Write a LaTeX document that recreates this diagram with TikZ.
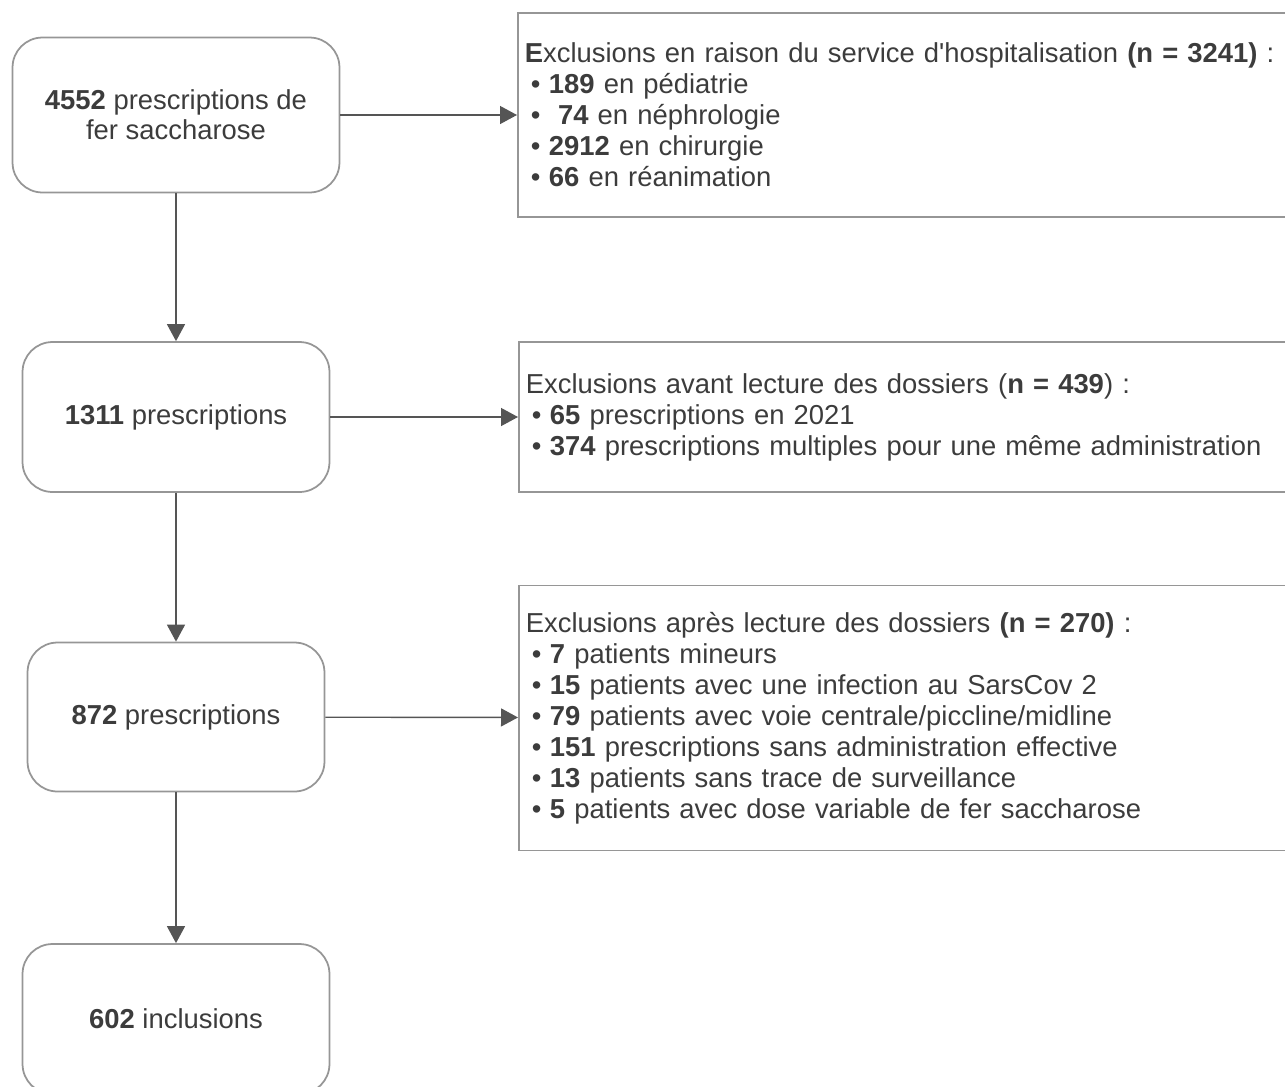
\documentclass[tikz,border=0pt]{standalone}
\usepackage{fontspec}
\setmainfont{Liberation Sans}
\usepackage{tikz}
\usetikzlibrary{arrows.meta,positioning}
\usepackage{xcolor}
\definecolor{fcgray}{RGB}{150,150,150}
\definecolor{fcarrow}{RGB}{85,85,85}
\definecolor{fctext}{RGB}{60,60,60}
\tikzstyle{arrow} = [line width=0.8pt,-{Triangle[length=0.34cm,width=0.36cm]},color=fcarrow]
\tikzstyle{stepbox} = [rectangle, rounded corners=0.6cm, draw=fcgray, line width=1pt, text=fctext, align=center, font=\fontsize{15.6}{17.2}\selectfont]
\tikzstyle{exclbox} = [rectangle, draw=fcgray, line width=1pt, text=fctext, anchor=west, align=left, text width=16.5cm, inner xsep=0.14cm, font=\fontsize{15.6}{17.6}\selectfont]
\newcommand{\bul}{\hspace{0.12cm}\textbullet\hspace{0.17cm}}

\begin{document}
\begin{tikzpicture}[x=0.02cm, y=-0.02cm]
    \useasboundingbox (0,0) rectangle (1285,1086);

    % Main flow
    \node[stepbox, minimum width=6.54cm, minimum height=3.1cm] (start) at (176,115) {\textbf{4552} prescriptions de\\fer saccharose};
    \node[stepbox, minimum width=6.14cm, minimum height=3.0cm] (presc1) at (176,417) {\textbf{1311} prescriptions};
    \node[stepbox, minimum width=5.94cm, minimum height=2.98cm] (presc2) at (176,717) {\textbf{872} prescriptions};
    \node[stepbox, minimum width=6.14cm, minimum height=3.0cm] (incl) at (176,1019) {\textbf{602} inclusions};

    % Exclusions
    \node[exclbox, minimum height=4.08cm] (excl1) at (517,115) {%
        \textbf{E}xclusions en raison du service d\textquotesingle hospitalisation \textbf{(n = 3241)} :\\
        \bul\textbf{189} en pédiatrie\\
        \bul\ \textbf{74} en néphrologie\\
        \bul\textbf{2912} en chirurgie\\
        \bul\textbf{66} en réanimation};
    \node[exclbox, minimum height=3.0cm] (excl2) at (518,417) {%
        Exclusions avant lecture des dossiers (\textbf{n = 439}) :\\
        \bul\textbf{65} prescriptions en 2021\\
        \bul\textbf{374} prescriptions multiples pour une même administration};
    \node[exclbox, minimum height=5.3cm] (excl3) at (518,718) {%
        Exclusions après lecture des dossiers \textbf{(n = 270)} :\\
        \bul\textbf{7} patients mineurs\\
        \bul\textbf{15} patients avec une infection au SarsCov 2\\
        \bul\textbf{79} patients avec voie centrale/piccline/midline\\
        \bul\textbf{151} prescriptions sans administration effective\\
        \bul\textbf{13} patients sans trace de surveillance\\
        \bul\textbf{5} patients avec dose variable de fer saccharose};

    % Connections
    \draw[arrow] (start) -- (presc1);
    \draw[arrow] (presc1) -- (presc2);
    \draw[arrow] (presc2) -- (incl);
    \draw[arrow] (start) -- (excl1);
    \draw[arrow] (presc1) -- (excl2);
    \draw[arrow] (presc2) -- (excl3);
\end{tikzpicture}
\end{document}
